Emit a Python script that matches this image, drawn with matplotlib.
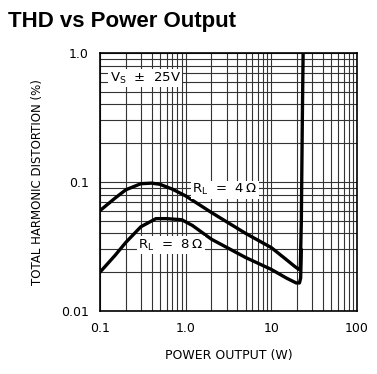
import numpy as np
import matplotlib.pyplot as plt

# THD (%) vs power output (W)
p_4ohm = [0.1, 0.15, 0.2, 0.3, 0.4, 0.5, 0.7, 1.0, 2.0, 5.0, 10.0, 15.0, 19.0, 21.0, 21.8, 22.4, 23.0, 23.5]
thd_4ohm = [0.06, 0.075, 0.087, 0.097, 0.098, 0.096, 0.088, 0.078, 0.058, 0.04, 0.031, 0.025, 0.022, 0.021, 0.022, 0.05, 0.3, 1.0]

p_8ohm = [0.1, 0.15, 0.2, 0.3, 0.45, 0.6, 0.9, 1.2, 2.0, 5.0, 10.0, 15.0, 19.5, 21.3, 22.0, 22.4]
thd_8ohm = [0.02, 0.027, 0.034, 0.045, 0.052, 0.052, 0.051, 0.046, 0.036, 0.026, 0.021, 0.018, 0.0165, 0.0165, 0.018, 0.03]

x_ticks = [0.1, 1.0, 10, 100]
x_labels = ["0.1", "1.0", "10", "100"]
y_ticks = [0.01, 0.1, 1.0]
y_labels = ["0.01", "0.1", "1.0"]

fig = plt.figure(figsize=(3.77, 3.74), dpi=100)
ax = fig.add_axes([100/377, 1 - 311/374, 257/377, 258/374])
ax.set_xscale("log")
ax.set_yscale("log")
ax.set_xlim(0.1, 100)
ax.set_ylim(0.01, 1.0)

ax.grid(True, which="both", color="#333333", lw=0.8)
ax.plot(p_4ohm, thd_4ohm, color="black", lw=2.4, solid_capstyle="round")
ax.plot(p_8ohm, thd_8ohm, color="black", lw=2.4, solid_capstyle="round")

ax.set_xticks(x_ticks)
ax.set_xticklabels(x_labels)
ax.set_yticks(y_ticks)
ax.set_yticklabels(y_labels)
ax.minorticks_on()
ax.tick_params(which="both", length=0, labelsize=9, pad=8)
ax.xaxis.set_minor_formatter(plt.NullFormatter())
ax.yaxis.set_minor_formatter(plt.NullFormatter())
for s in ax.spines.values():
    s.set_linewidth(1.2)

box = dict(facecolor="white", edgecolor="none", pad=1)
ax.text(0.13, 0.64, r"V$_\mathregular{S}$  $\pm$  25V", fontsize=9.5, bbox=box, va="center")
ax.text(1.19, 0.087, r"R$_\mathregular{L}$  =  4$\,\Omega$", fontsize=9.5, bbox=box, va="center")
ax.text(0.28, 0.0325, r"R$_\mathregular{L}$  =  8$\,\Omega$", fontsize=9.5, bbox=box, va="center")

ax.set_xlabel("POWER OUTPUT (W)", fontsize=9, labelpad=10)
ax.set_ylabel("TOTAL HARMONIC DISTORTION (%)", fontsize=8.5, labelpad=12)

fig.text(8/377, 1 - 21/374, "THD vs Power Output", fontsize=16, fontweight="bold",
         family="Liberation Sans", va="center")

plt.savefig("out.png", dpi=100)
